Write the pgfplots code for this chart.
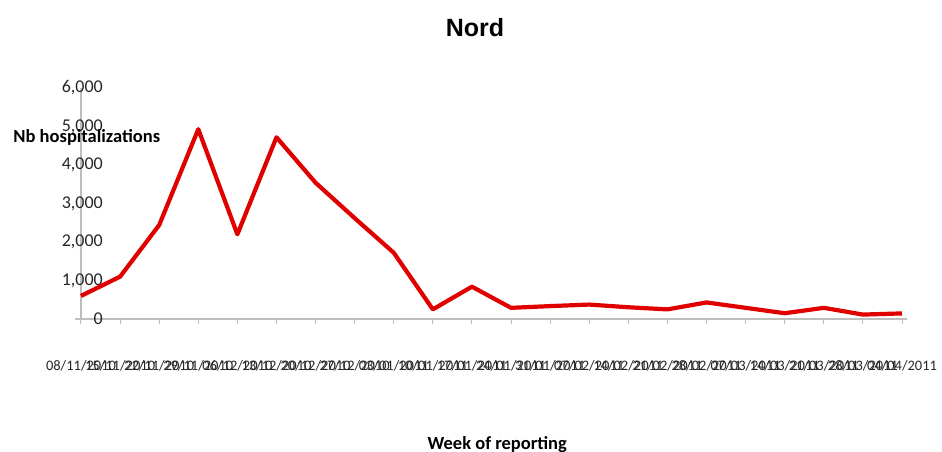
\documentclass[border=0pt]{standalone}
\usepackage{fontspec}
\setmainfont{Carlito}
\newfontfamily\arialfont{Liberation Sans}
\usepackage{pgfplots}
\pgfplotsset{compat=1.18}
\definecolor{linered}{HTML}{E00000}
\definecolor{axgray}{HTML}{BEBEBE}

\begin{document}
\begin{tikzpicture}
\useasboundingbox (-81bp,-133bp) rectangle (861bp,319bp);
\begin{axis}[
  at={(0,0)}, anchor=south west,
  scale only axis, width=821bp, height=231bp,
  xmin=0, xmax=21, ymin=0, ymax=6000,
  clip=false,
  axis lines*=left,
  axis line style={draw=axgray, line width=1.3bp, -},
  x axis line style={shorten <=-6bp, shorten >=-5bp},
  tick align=outside,
  major tick length=5bp,
  xtick={0,...,21},
  xticklabels={08/11/2010,15/11/2010,22/11/2010,29/11/2010,06/12/2010,13/12/2010,
    20/12/2010,27/12/2010,03/01/2011,10/01/2011,17/01/2011,24/01/2011,31/01/2011,
    07/02/2011,14/02/2011,21/02/2011,28/02/2011,07/03/2011,14/03/2011,21/03/2011,
    28/03/2011,04/04/2011},
  xtick style={draw=axgray, line width=1bp},
  ytick={0,1000,...,6000},
  ytick style={draw=none},
  scaled y ticks=false,
  /pgf/number format/.cd, fixed, 1000 sep={,}, assume math mode=true, /pgfplots/.cd,
  xticklabel style={anchor=center, yshift=-42bp, inner sep=0pt,
    font=\fontsize{14.5bp}{16bp}\selectfont, text=black!85},
  yticklabel style={anchor=east, inner sep=0pt, xshift=27bp,
    font=\fontsize{18bp}{20bp}\selectfont, text=black!85},
]
\addplot[linered, line width=4.2bp, line join=round, no markers] coordinates {
  (0,600) (1,1100) (2,2440) (3,4930) (4,2200) (5,4720) (6,3540) (7,2620)
  (8,1720) (9,250) (10,840) (11,290) (12,335) (13,375) (14,305) (15,250)
  (16,430) (17,290) (18,150) (19,290) (20,115) (21,145)
};
\node[anchor=base, font=\arialfont\bfseries\fontsize{25bp}{28bp}\selectfont]
  at (axis description cs:0.480,1.225) {Nord};
\node[anchor=base, font=\bfseries\fontsize{18.5bp}{20bp}\selectfont]
  at (axis description cs:0.007,0.766) {Nb hospitalizations};
\node[anchor=base, font=\bfseries\fontsize{18.5bp}{20bp}\selectfont]
  at (axis description cs:0.507,-0.563) {Week of reporting};
\end{axis}
\end{tikzpicture}
\end{document}
